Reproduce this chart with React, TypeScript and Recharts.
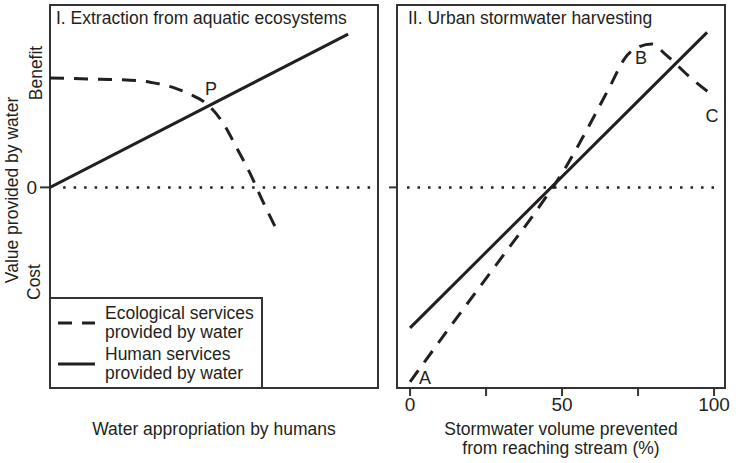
import React from 'react';
import {
  LineChart,
  Line,
  XAxis,
  YAxis,
  ReferenceArea,
  ReferenceLine,
  ReferenceDot,
  Legend,
} from 'recharts';

const FONT = '"Liberation Sans", Arial, Helvetica, sans-serif';
const INK = '#231f20';
const FRAME = '#333';
const TEXT_SIZE = 17.5;

// Panel I: extraction from aquatic ecosystems
const humanLeftX = [0, 90.9];
const humanLeftY = [0, 0.84];
const ecoLeftX = [0, 15.2, 24.4, 30.5, 38.1, 42.7, 47.9, 52.4, 57.0, 61.0, 64.6, 69.5];
const ecoLeftY = [0.6, 0.593, 0.588, 0.577, 0.544, 0.511, 0.456, 0.363, 0.214, 0.077, -0.066, -0.247];

// Panel II: urban stormwater harvesting
const humanRightX = [0, 97.7];
const humanRightY = [-0.77, 0.85];
const ecoRightX = [0, 13.2, 29.6, 42.8, 51.0, 55.9, 60.9, 65.8, 70.7, 75.0, 79.6, 83.9, 92.1, 100.3];
const ecoRightY = [-1.066, -0.764, -0.396, -0.099, 0.104, 0.247, 0.401, 0.555, 0.709, 0.769, 0.786, 0.731, 0.604, 0.495];

const stormTicks = [0, 25, 50, 75, 100];
const stormTickLabels = ['0', '', '50', '', '100'];

const leftPoints = [{ name: 'P', x: 49.1, y: 0.541 }];
const rightPoints = [
  { name: 'A', x: 4.9, y: -1.04 },
  { name: 'B', x: 76, y: 0.714 },
  { name: 'C', x: 99.3, y: 0.396 },
];

const legendItems = [
  { lines: ['Ecological services', 'provided by water'], dash: '14 10' },
  { lines: ['Human services', 'provided by water'], dash: undefined },
];

const Y_DOMAIN: [number, number] = [-1.1, 1];
const LEFT_X: [number, number] = [0, 100];
const RIGHT_X: [number, number] = [-4.3, 103.6];

const zip = (xs: number[], ys: number[]) => xs.map((x, i) => ({ x, y: ys[i] }));

const LegendBox = () => (
  <div
    style={{
      boxSizing: 'border-box',
      width: 214,
      height: 92,
      border: `2px solid ${FRAME}`,
      background: '#fff',
      paddingTop: 4.5,
      fontFamily: FONT,
      fontSize: TEXT_SIZE,
      lineHeight: '19px',
      color: INK,
    }}
  >
    {legendItems.map((it) => (
      <div key={it.lines[0]} style={{ display: 'flex', alignItems: 'center', marginBottom: 3 }}>
        <svg width={54} height={38} style={{ flex: 'none' }}>
          <line x1={7} x2={44} y1={19} y2={19} stroke={INK} strokeWidth={3} strokeDasharray={it.dash} />
        </svg>
        <div style={{ whiteSpace: 'nowrap' }}>
          {it.lines[0]}
          <br />
          {it.lines[1]}
        </div>
      </div>
    ))}
  </div>
);

const title = (text: string, dx: number) => (props: any) => {
  const vb = props.viewBox;
  return (
    <text x={vb.x + dx} y={vb.y + 18.5} fontSize={TEXT_SIZE} fontFamily={FONT} fill={INK}>
      {text}
    </text>
  );
};

const pointLabel = (name: string) => (props: any) => {
  const vb = props.viewBox;
  return (
    <text
      x={vb.x + (vb.width || 0) / 2}
      y={vb.y + (vb.height || 0) / 2 + 6.5}
      textAnchor="middle"
      fontSize={18}
      fontFamily={FONT}
      fill={INK}
    >
      {name}
    </text>
  );
};

const leftYLabel = () => (
  <g fontFamily={FONT} fontSize={TEXT_SIZE} fill={INK} textAnchor="middle">
    <text x={18} y={190} transform="rotate(-90 18 190)">Value provided by water</text>
    <text x={42} y={73} transform="rotate(-90 42 73)">Benefit</text>
    <text x={40} y={282} transform="rotate(-90 40 282)">Cost</text>
  </g>
);

const leftXLabel = (props: any) => {
  const vb = props.viewBox;
  return (
    <text x={vb.x + vb.width / 2} y={vb.y + 47} textAnchor="middle" fontSize={TEXT_SIZE} fontFamily={FONT} fill={INK}>
      Water appropriation by humans
    </text>
  );
};

const rightXLabel = (props: any) => {
  const vb = props.viewBox;
  const cx = vb.x + vb.width / 2;
  return (
    <text textAnchor="middle" fontSize={TEXT_SIZE} fontFamily={FONT} fill={INK}>
      <tspan x={cx} y={vb.y + 47}>Stormwater volume prevented</tspan>
      <tspan x={cx} y={vb.y + 66}>from reaching stream (%)</tspan>
    </text>
  );
};

const tickStyle = { fontSize: 19, fill: INK, fontFamily: FONT };
const tickLineStyle = { stroke: FRAME, strokeWidth: 2 };

export default function App() {
  return (
    <div
      style={{
        position: 'absolute',
        left: 0,
        top: 0,
        width: 736,
        height: 463,
        background: '#fff',
        display: 'flex',
      }}
    >
      <LineChart width={388} height={463} margin={{ top: 5, right: 10, left: 0, bottom: 0 }}>
        <XAxis
          type="number"
          dataKey="x"
          domain={LEFT_X}
          allowDataOverflow
          ticks={[]}
          axisLine={false}
          tickLine={false}
          height={75}
          label={leftXLabel}
        />
        <YAxis
          type="number"
          dataKey="y"
          domain={Y_DOMAIN}
          allowDataOverflow
          ticks={[0]}
          width={50}
          axisLine={false}
          tickSize={10}
          tickMargin={3}
          tick={tickStyle}
          tickLine={tickLineStyle}
          label={leftYLabel}
        />
        <ReferenceArea
          x1={LEFT_X[0]}
          x2={LEFT_X[1]}
          y1={Y_DOMAIN[0]}
          y2={Y_DOMAIN[1]}
          fill="none"
          stroke={FRAME}
          strokeWidth={2}
          ifOverflow="visible"
          label={title('I. Extraction from aquatic ecosystems', 6)}
        />
        <ReferenceLine
          segment={[{ x: 4, y: 0 }, { x: 99, y: 0 }]}
          stroke={INK}
          strokeWidth={2.5}
          strokeDasharray="2.5 8"
        />
        <Line
          data={zip(ecoLeftX, ecoLeftY)}
          dataKey="y"
          type="monotone"
          stroke={INK}
          strokeWidth={3}
          strokeDasharray="14 10"
          dot={false}
          isAnimationActive={false}
        />
        <Line
          data={zip(humanLeftX, humanLeftY)}
          dataKey="y"
          type="linear"
          stroke={INK}
          strokeWidth={3}
          dot={false}
          isAnimationActive={false}
        />
        {leftPoints.map((p) => (
          <ReferenceDot key={p.name} x={p.x} y={p.y} r={0} fill="none" stroke="none" label={pointLabel(p.name)} />
        ))}
        <Legend
          layout="horizontal"
          verticalAlign="middle"
          align="center"
          wrapperStyle={{ left: 49, top: 297, width: 214 }}
          content={() => <LegendBox />}
        />
      </LineChart>

      <LineChart width={348} height={463} margin={{ top: 5, right: 11, left: 0, bottom: 0 }}>
        <XAxis
          type="number"
          dataKey="x"
          domain={RIGHT_X}
          allowDataOverflow
          ticks={stormTicks}
          tickFormatter={(v: number) => stormTickLabels[stormTicks.indexOf(v)]}
          axisLine={false}
          tickSize={8}
          tickMargin={2}
          tick={tickStyle}
          tickLine={tickLineStyle}
          height={75}
          label={rightXLabel}
        />
        <YAxis
          type="number"
          dataKey="y"
          domain={Y_DOMAIN}
          allowDataOverflow
          ticks={[0]}
          tickFormatter={() => ''}
          width={9}
          axisLine={false}
          tickSize={8}
          tickLine={tickLineStyle}
        />
        <ReferenceArea
          x1={RIGHT_X[0]}
          x2={RIGHT_X[1]}
          y1={Y_DOMAIN[0]}
          y2={Y_DOMAIN[1]}
          fill="none"
          stroke={FRAME}
          strokeWidth={2}
          ifOverflow="visible"
          label={title('II. Urban stormwater harvesting', 11)}
        />
        <ReferenceLine
          segment={[{ x: -1, y: 0 }, { x: 101.3, y: 0 }]}
          stroke={INK}
          strokeWidth={2.5}
          strokeDasharray="2.5 8"
        />
        <Line
          data={zip(ecoRightX, ecoRightY)}
          dataKey="y"
          type="monotone"
          stroke={INK}
          strokeWidth={3}
          strokeDasharray="14 10"
          dot={false}
          isAnimationActive={false}
        />
        <Line
          data={zip(humanRightX, humanRightY)}
          dataKey="y"
          type="linear"
          stroke={INK}
          strokeWidth={3}
          dot={false}
          isAnimationActive={false}
        />
        {rightPoints.map((p) => (
          <ReferenceDot key={p.name} x={p.x} y={p.y} r={0} fill="none" stroke="none" label={pointLabel(p.name)} />
        ))}
      </LineChart>
    </div>
  );
}
